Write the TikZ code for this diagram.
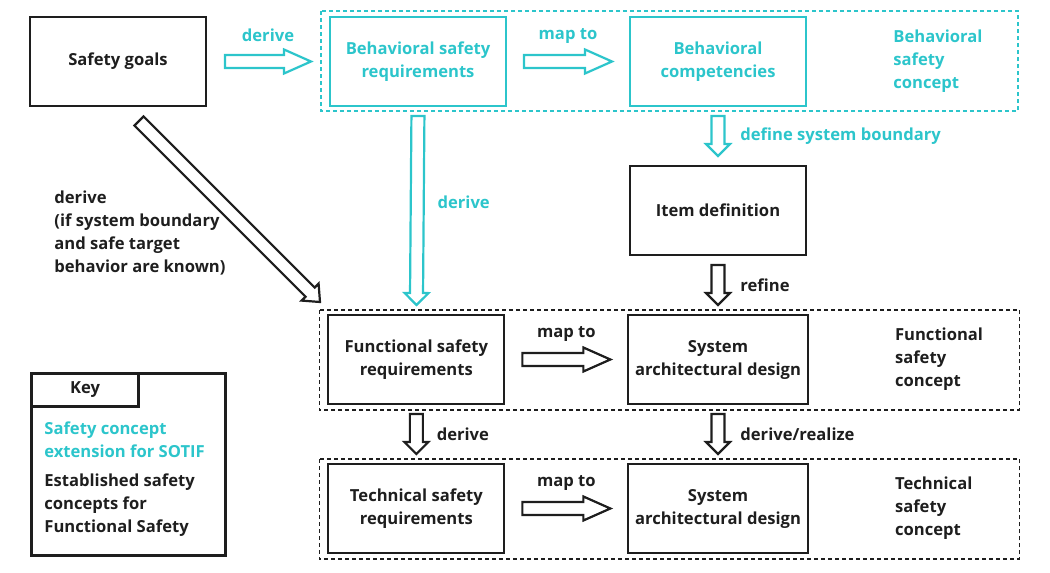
\documentclass[tikz,border=0pt]{standalone}
\usepackage{fontspec}
\setmainfont{Open Sans}
\usetikzlibrary{positioning, calc}
\definecolor{sotifcyan}{HTML}{2CC5CB}
\definecolor{fsink}{HTML}{1E1E1E}

\tikzset{
    % hollow block arrow between two points: #1 gap at both ends, #2 head length
    blockarrow/.style 2 args={to path={
        let \p1=($(\tikztostart)!#1!(\tikztotarget)$),
            \p2=($(\tikztotarget)!#1!(\tikztostart)$),
            \p3=($(\p2)!#2!(\p1)$) in
        ($(\p1)!3.25pt!90:(\p2)$) -- ($(\p3)!3.25pt!90:(\p2)$) --
        ($(\p3)!6pt!90:(\p2)$) -- (\p2) -- ($(\p3)!6pt!-90:(\p2)$) --
        ($(\p3)!3.25pt!-90:(\p2)$) -- ($(\p1)!3.25pt!-90:(\p2)$) -- cycle
    }}
}

\begin{document}
\begin{tikzpicture}[
        x=0.5pt, y=0.5pt,
        node distance=29pt and 61pt,
        every node/.style={font=\bfseries\fontsize{8.3}{11.5}\selectfont, text=fsink},
        box/.style={
            draw=fsink,
            line width=1pt,
            minimum width=88pt,
            minimum height=44.5pt,
            align=center
        },
        sotifbox/.style={box, draw=sotifcyan, text=sotifcyan},
        caption/.style={inner sep=0pt, align=left, anchor=west},
        arrowlabel/.style={inner sep=0pt},
        fsarrow/.style={draw=fsink, line width=1.1pt},
        sotifarrow/.style={draw=sotifcyan, line width=1.1pt},
        fsframe/.style={draw=fsink, line width=0.6pt, dash pattern=on 2pt off 1.5pt},
        sotifframe/.style={fsframe, draw=sotifcyan},
        keyframe/.style={draw=fsink, line width=1.5pt, outer sep=0pt}
    ]
        \useasboundingbox (0,0) rectangle (1050,-573);

        % top row
        \node[box] (goals) at (118,-61.5) {Safety goals};
        \node[sotifbox, right=of goals] (bsr) {Behavioral safety\\requirements};
        \node[sotifbox, right=of bsr] (bcomp) {Behavioral\\competencies};
        \node[caption, text=sotifcyan] (bsconcept) at ($(bcomp.east)+(86,0)$) {Behavioral\\safety\\concept};

        % item definition and functional / technical rows
        \node[box, below=of bcomp] (itemdef) {Item definition};
        \node[box, below=of itemdef] (sysarch) {System\\architectural design};
        \node[box, left=of sysarch] (fsr) {Functional safety\\requirements};
        \node[box, below=of fsr] (tsr) {Technical safety\\requirements};
        \node[box, below=of sysarch] (sysarchtech) {System\\architectural design};
        \node[caption] (fsconcept) at ($(sysarch.east)+(86,0)$) {Functional\\safety\\concept};
        \node[caption] (tsconcept) at ($(sysarchtech.east)+(86,0)$) {Technical\\safety\\concept};

        % concept frames
        \draw[sotifframe] ($(bsr.north west)+(-8,5)$) rectangle ($(bcomp.south east)+(211,-4)$);
        \draw[fsframe] ($(fsr.north west)+(-8,4)$) rectangle ($(sysarch.south east)+(211,-5)$);
        \draw[fsframe] ($(tsr.north west)+(-8,4)$) rectangle ($(sysarchtech.south east)+(211,-5)$);

        % SOTIF arrows
        \draw[sotifarrow] (goals.east) to[blockarrow={9pt}{13.5pt}] (bsr.west);
        \path (goals.east) -- (bsr.west)
            node[midway, yshift=13pt, arrowlabel, text=sotifcyan] {derive};
        \draw[sotifarrow] (bsr.east) to[blockarrow={8.5pt}{13.5pt}] (bcomp.west);
        \path (bsr.east) -- (bcomp.west)
            node[midway, yshift=13pt, arrowlabel, text=sotifcyan] {map to};
        \draw[sotifarrow] (bcomp.south) to[blockarrow={4.5pt}{6pt}] (itemdef.north);
        \path (bcomp.south) -- (itemdef.north)
            node[midway, right=11pt, arrowlabel, text=sotifcyan] {define system boundary};
        \draw[sotifarrow] (bsr.south) to[blockarrow={4.5pt}{6pt}] (fsr.north);
        \path (bsr.south) -- (fsr.north)
            node[midway, yshift=4pt, right=10pt, arrowlabel, text=sotifcyan] {derive};

        % functional safety arrows
        \draw[fsarrow] (itemdef.south) to[blockarrow={4.5pt}{6pt}] (sysarch.north);
        \path (itemdef.south) -- (sysarch.north)
            node[midway, right=11pt, arrowlabel] {refine};
        \draw[fsarrow] (fsr.east) to[blockarrow={8.5pt}{13.5pt}] (sysarch.west);
        \path (fsr.east) -- (sysarch.west)
            node[midway, yshift=13pt, arrowlabel] {map to};
        \draw[fsarrow] (fsr.south) to[blockarrow={4.5pt}{6pt}] (tsr.north);
        \path (fsr.south) -- (tsr.north)
            node[midway, right=10pt, arrowlabel] {derive};
        \draw[fsarrow] (sysarch.south) to[blockarrow={4.5pt}{6pt}] (sysarchtech.north);
        \path (sysarch.south) -- (sysarchtech.north)
            node[midway, right=11pt, arrowlabel] {derive/realize};
        \draw[fsarrow] (tsr.east) to[blockarrow={8.5pt}{13.5pt}] (sysarchtech.west);
        \path (tsr.east) -- (sysarchtech.west)
            node[midway, yshift=13pt, arrowlabel] {map to};

        % direct derivation from the safety goals
        \coordinate (diagstart) at (139,-121);
        \coordinate (diagend) at (320,-302);
        \draw[fsarrow] (diagstart) to[blockarrow={0pt}{7pt}] (diagend);
        \node[caption] (diaglabel) at (54,-233.5) {derive\\(if system boundary\\and safe target\\behavior are known)};

        % key
        \node[keyframe, minimum width=97pt, minimum height=91pt] (key) at (128.5,-464.5) {};
        \node[keyframe, anchor=north west, minimum width=53.5pt, minimum height=16.5pt] (keytab) at (key.north west) {Key};
        \node[caption, text=sotifcyan] (keysotif) at (44,-439.5) {Safety concept\\extension for SOTIF};
        \node[caption] (keyfs) at (44,-505) {Established safety\\concepts for\\Functional Safety};
\end{tikzpicture}
\end{document}
